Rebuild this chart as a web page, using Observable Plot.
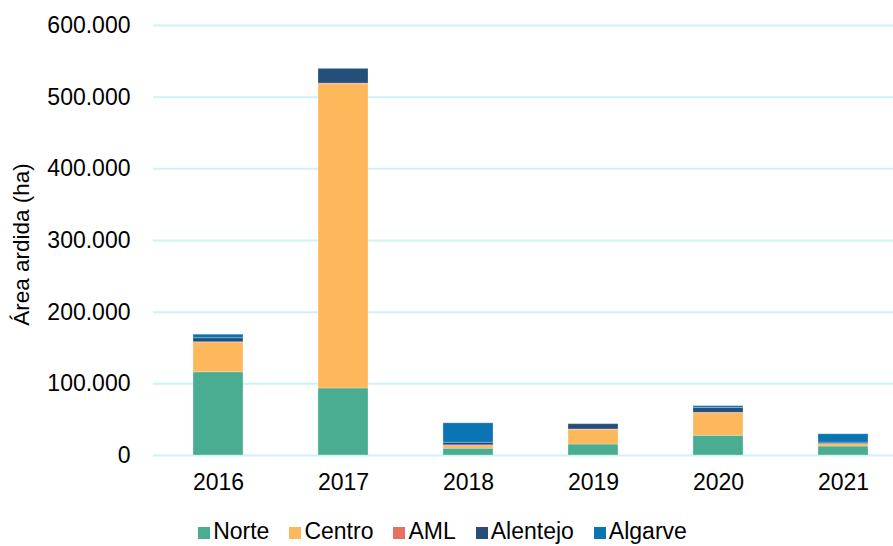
<!DOCTYPE html>
<html>
<head>
<meta charset="utf-8">
<script src="https://cdn.jsdelivr.net/npm/d3@7"></script>
<script src="https://cdn.jsdelivr.net/npm/@observablehq/plot@0.6"></script>
<style>
  html, body { margin: 0; padding: 0; background: #fff; }
  #wrap { position: relative; width: 893px; height: 546px; overflow: hidden; font-family: "Liberation Sans", Arial, sans-serif; }
  #legend { position: absolute; left: 0; top: 520px; width: 893px; display: flex; justify-content: center; gap: 20px; font-size: 23px; line-height: 23px; color: #000; transform: translateX(-4px); }
  #legend .item { display: flex; align-items: baseline; gap: 3px; white-space: nowrap; }
  #legend .sw { display: inline-block; width: 12px; height: 12px; }
</style>
</head>
<body>
<div id="wrap"></div>
<script>
const years = ["2016", "2017", "2018", "2019", "2020", "2021"];
const regions = ["Norte", "Centro", "AML", "Alentejo", "Algarve"];
const colors = ["#4AAD92", "#FDB85C", "#E77061", "#254F79", "#0B74B3"];
const norte    = [116000,  93500,  9500, 15300, 27500, 12500];
const centro   = [ 41000, 424500,  3500, 20500, 31500,  3200];
const aml      = [  1000,   1000,  1200,   500,   600,   300];
const alentejo = [  5600,  20500,  3700,  7400,  6500,  2000];
const algarve  = [  5000,    500, 27000,   300,  2800, 11600];
const yTicks = [0, 100000, 200000, 300000, 400000, 500000, 600000];

const series = [norte, centro, aml, alentejo, algarve];
const data = [];
regions.forEach((r, j) => years.forEach((y, i) => data.push({year: y, region: r, value: series[j][i]})));

const fmt = d3.formatLocale({decimal: ",", thousands: ".", grouping: [3], currency: ["", ""]}).format(",");

const chart = Plot.plot({
  width: 893,
  height: 505,
  marginTop: 25,
  marginBottom: 50,
  marginLeft: 153,
  marginRight: 0,
  style: {fontFamily: "'Liberation Sans', Arial, sans-serif", fontSize: "23px", color: "#000", background: "#fff"},
  x: {domain: years, range: [153, 908], paddingInner: 0.6, paddingOuter: 0.3, label: null},
  y: {domain: [0, 600000], label: null},
  color: {domain: regions, range: colors},
  marks: [
    Plot.ruleY(yTicks, {stroke: "#CDF3F3", strokeWidth: 2}),
    Plot.barY(data, {x: "year", y: "value", fill: "region", order: regions, stroke: "#fff", strokeOpacity: 0.35, strokeWidth: 0.75}),
    Plot.axisX({tickSize: 0, tickPadding: 18, fontSize: 23, label: null}),
    Plot.axisY({ticks: yTicks, tickSize: 0, tickPadding: 23, fontSize: 23, tickFormat: fmt, label: null}),
    Plot.text(["Área ardida (ha)"], {frameAnchor: "left", dx: -132, dy: 4, rotate: -90, lineAnchor: "middle", textAnchor: "middle", fontSize: 22.5, fill: "#000"})
  ]
});

const wrap = document.getElementById("wrap");
wrap.appendChild(chart);

const legend = document.createElement("div");
legend.id = "legend";
regions.forEach((r, i) => {
  const item = document.createElement("span");
  item.className = "item";
  const sw = document.createElement("span");
  sw.className = "sw";
  sw.style.background = colors[i];
  const t = document.createElement("span");
  t.textContent = r;
  item.appendChild(sw);
  item.appendChild(t);
  legend.appendChild(item);
});
wrap.appendChild(legend);
</script>
</body>
</html>
